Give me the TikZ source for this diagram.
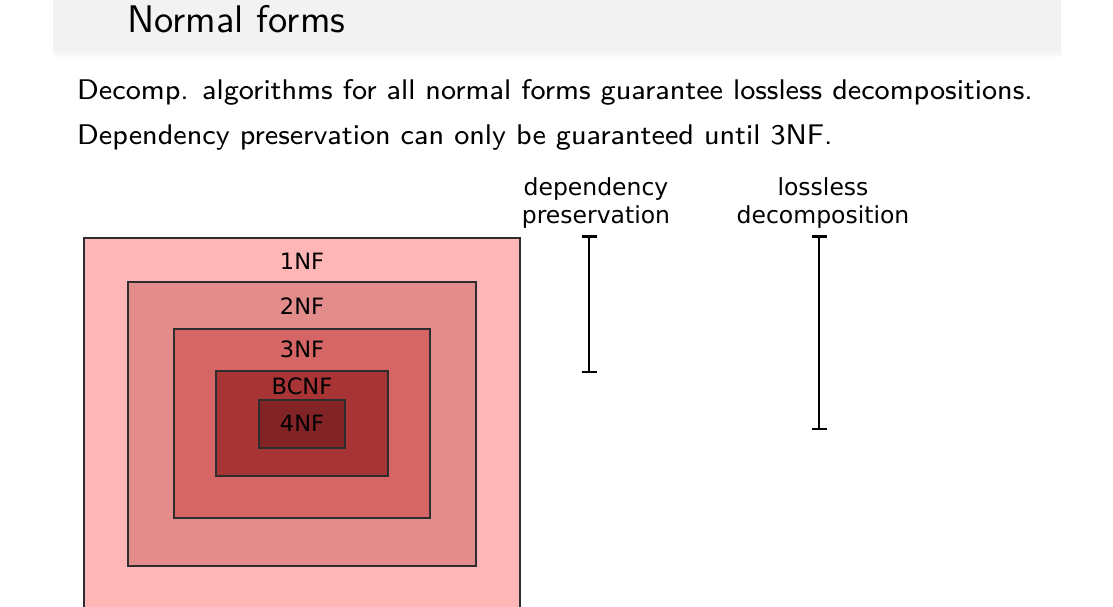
\documentclass[tikz,border=0pt]{standalone}
\usepackage{fontspec}
\usetikzlibrary{arrows.meta}
\newfontfamily\labelfont{DejaVu Sans}
\newfontfamily\bodyfont{lmsans8-regular.otf}
\newfontfamily\titlefont{lmsans10-regular.otf}
\definecolor{headgray}{RGB}{242,242,242}
\definecolor{nfone}{RGB}{255,182,182}
\definecolor{nftwo}{RGB}{226,140,140}
\definecolor{nfthree}{RGB}{214,102,102}
\definecolor{nfbc}{RGB}{168,52,54}
\definecolor{nffour}{RGB}{130,36,38}
\definecolor{boxline}{RGB}{45,45,45}
\tikzset{
		% nested boxes for the normal forms and the labels on them
		nf box/.style={draw=boxline,line width=2pt},
		nf label/.style={anchor=base,inner sep=0,font=\labelfont\fontsize{22.5}{26}\selectfont},
		% the two guarantee bars
		guarantee bar/.style={line width=2.5pt,{Bar[width=15pt,line width=2.5pt]}-{Bar[width=15pt,line width=2.5pt]}},
		bar title/.style={anchor=base,inner sep=0,align=center,font=\labelfont\fontsize{23.5}{28}\selectfont},
		body line/.style={anchor=base west,inner sep=0,font=\bodyfont\fontsize{28.4}{34}\selectfont}
	}
\begin{document}
\begin{tikzpicture}[x=1pt,y=-1pt]
		\useasboundingbox (0,0) rectangle (1113,607);
		% slide head
		\fill[headgray] (53,0) rectangle (1061,50);
		\shade[top color=headgray,bottom color=white] (53,50) rectangle (1061,58);
		\node (title) [anchor=base west,inner sep=0,font=\titlefont\fontsize{38.5}{44}\selectfont] at (127,33) {Normal forms};
		\node (line1) [body line] at (77,100) {Decomp. algorithms for all normal forms guarantee lossless decompositions.};
		\node (line2) [body line] at (77,144) {Dependency preservation can only be guaranteed until 3NF.};
		% nested normal forms
		\filldraw[nf box,fill=nfone] (84,238) rectangle (520,620);
		\filldraw[nf box,fill=nftwo] (128,282) rectangle (476,566);
		\filldraw[nf box,fill=nfthree] (174,329) rectangle (430,518);
		\filldraw[nf box,fill=nfbc] (216,371) rectangle (388,476);
		\filldraw[nf box,fill=nffour] (259,400) rectangle (345,448);
		\node (one) [nf label] at (302,269) {1NF};
		\node (two) [nf label] at (302,314) {2NF};
		\node (three) [nf label] at (302,357) {3NF};
		\node (bc) [nf label] at (302,394) {BCNF};
		\node (four) [nf label] at (302,431) {4NF};
		% what each decomposition guarantees
		\node (dep) [bar title] at (596,223) {dependency\\preservation};
		\node (loss) [bar title] at (823,223) {lossless\\decomposition};
		\coordinate (dep top) at (589,235);
		\coordinate (dep bottom) at (589,373);
		\coordinate (loss top) at (819,235);
		\coordinate (loss bottom) at (819,430);
		\draw[guarantee bar] (dep top) -- (dep bottom);
		\draw[guarantee bar] (loss top) -- (loss bottom);
	\end{tikzpicture}
\end{document}
